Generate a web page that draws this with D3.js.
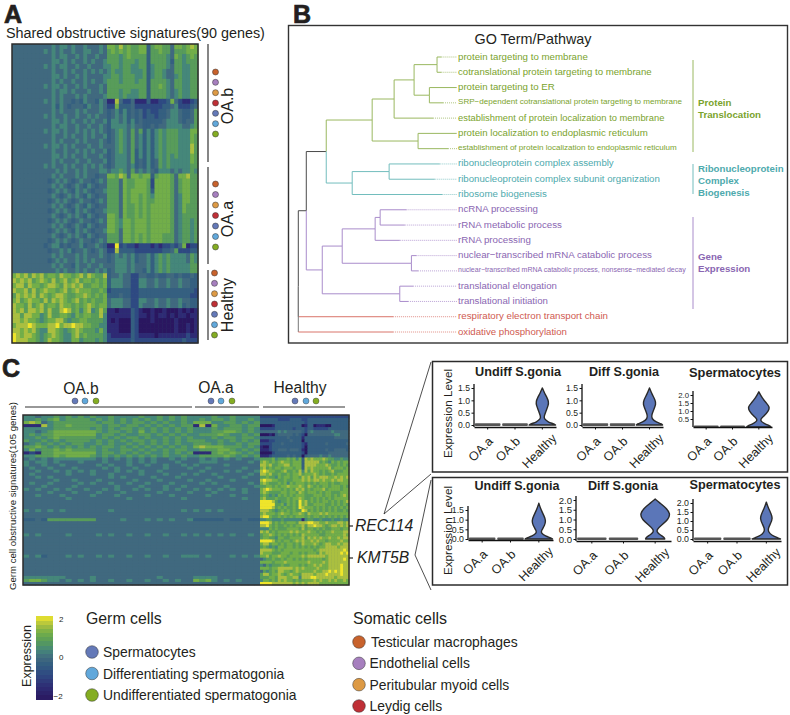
<!DOCTYPE html>
<html><head><meta charset="utf-8">
<script src="https://cdn.jsdelivr.net/npm/d3@7"></script>
<style>
html,body{margin:0;padding:0;background:#fff}
svg{display:block}
text{font-family:"Liberation Sans",Arial,sans-serif;fill:#231f20}
</style></head><body>
<svg id="c" width="790" height="715">
<defs><filter id="soft" x="-2%" y="-2%" width="104%" height="104%"><feGaussianBlur stdDeviation="0.75 0.6"/></filter></defs>
</svg>
<script>
// ---------- DATA ----------
const expressionLevels=[-2,-1.4,-0.8,-0.3,0,0.4,0.8,1.2,1.6,2];
const paletteStops=[-2,-1.4,-0.8,-0.3,0,0.4,0.8,1.2,1.6,2];
const paletteColors=["#2a1860","#2e2c74","#2f4a82","#345f80","#41697f","#45877a","#589c5a","#72ae48","#aabf40","#efe52c"];

const heatAColumnBlocks=[24,23];
const heatARows=[
"444444444454554544544454|77686766773677664776787",
"444444445454544544554454|67676766773667664666777",
"444444444454554454544544|66656766663666654765676",
"444444444455454544545445|66656665663666653665666",
"444444445454554454454445|56656655663566654665566",
"444444444454454544545454|56556655563566544665566",
"444444444455454454544445|56656665563566544565566",
"444444444454544544545445|66656665663666654665566",
"444444445455454454544454|66666666663667654665566",
"444444444454554544454454|66656655663666654565566",
"444444444454544454544445|66656555663666654565566",
"444444445454544343544354|11842241113112237421123",
"444444444453543444354454|22733342222222334522234",
"444444444454544454544454|34535343423223345543346",
"444444445454454454454544|34545343423323345543346",
"444444444455454544545445|35545353433333455543446",
"444444444454554454454454|35555454433434455554456",
"444444445455454454545454|34565464635356566655577",
"444444444454454544545445|34565464535356566655576",
"444444444454544454544454|34565464535356566655576",
"444444445455454544454454|44565464535356566655586",
"444444444454454454545445|34565463535356566655586",
"444444444455454544544454|34555463535356565655576",
"444444444454544454454445|34555463435346565555576",
"444444445454454544545454|34555453435346565555566",
"444444444445454454544455|45565464545435554545565",
"444444444454544454544344|77687477677367776477866",
"444444444345454345443454|66647667776277776467766",
"444444444454543454354344|66647667776277776467766",
"444444444345454354543445|66647677776377776467766",
"444444444454345454354344|66647677676577776457766",
"444444444345454345443454|66647677676677776457766",
"444444444454543454354344|66647667676777776457666",
"444444444345454354543445|66647667676777776457666",
"444444444454345454354344|77647667676777776456666",
"444444444345454345443454|77657767776777776456656",
"444444444454543454354344|77657767776777776456656",
"444444444345454354543445|77647767776777776456656",
"444444444454345454354344|66647767676777666456656",
"444444444345454345443454|66647767676777666456656",
"444444443455343445344543|11923221222121223247122",
"444444444344545344543454|22833332222222334622233",
"444444444454544454544454|34545453445356565555465",
"444444444345454454545444|34555453445356565555465",
"444444444454544354454454|44555454445356565555566",
"444444444445454454544545|34555454435356565555566",
"787868786776877678687668|34454422443343344343343",
"878786787686786786776767|35554422554454454454433",
"788687767887687878667767|35554422554454454454433",
"877868678776786787776676|23333322333333333333332",
"687878687678876677876767|33343322333333333333322",
"786787768687876786767667|45554422554454454454433",
"877686786776877676787677|45554422544454454453433",
"878688786866898675785686|11011132100100100010101",
"886887756866776576776685|11111132110101101011011",
"887877656778865667766665|10100032000100000100001",
"788898777889788988776655|11100032000000000100101",
"887878655887656787666575|11100032000000000100101",
"987887656787655786766665|21111132111101111111211",
"988877656877655775666565|22222232222222222223222"
];

const heatCOAColumnBlocks=[28,11];
const heatCOARows=[
"5545565656565565555655656565|55565565555",
"5565675666656565656565656565|56566565565",
"7874566666665665656656565565|77755665656",
"1118566766666566566565656566|18175566566",
"5555566666656565665656565656|55565666565",
"5545677777776566565756565656|55566776565",
"5656677777775665655665656565|56667655656",
"5565676666665656566565565656|55565665665",
"6556565666656565656656565656|66556565656",
"4565656566556565565656565655|66656556566",
"6676565656565665656565656565|78777666565",
"5756676766665655665656565665|56667765656",
"1216677777775665656565565656|11167676565",
"5566676777765656565656565565|56666765656",
"4545455555554545454545445454|45454545445",
"5455454445444544454545444544|45554444454",
"5445445444445454454454454454|54444544444",
"4544544454444545445444454445|44544444544",
"4454454545454445454544544444|45444545445",
"4544444544454454444544454454|54454444454",
"4454544444444454544445444544|44445444544",
"4444454454445444445444544445|44544454444",
"4544544445454454454454445444|45454444454",
"4445444454444445444544454454|44444544445",
"5454454544544545445454454544|54545454544",
"4444544454445444544444544445|44454444544",
"4454445444454445444454445444|44544454444",
"4444444544444444454444444454|44444444544",
"4444444444444444444444444444|44444444444",
"4444444444444444444444444444|44444444444",
"4444444444444444444444444444|44444444444",
"5454545444444454444444444454|54545444444",
"4444444444444444444444444444|44444444444",
"4444444444444444444444444444|44444444444",
"3343666666664444544454545445|33333433433",
"4444444444444444444444444444|44444444444",
"4444444444444444444444444444|44444444444",
"4444444444444444444444444444|44444444444",
"4444444444444444444444444444|44444444444",
"5454444544445454454454454454|54545454454",
"4444444444444444444444444444|44444444444",
"4444444444444444444444444444|44444444444",
"4444444444444444444444444444|44444444444",
"4444444444444444444444444444|44444444444",
"4444444444444444444444444444|44444444444",
"4444444444444444444444444444|44444444444",
"5453444545445454454454454455|54544454545",
"4444444444444444444444444444|44444444444",
"4444444444444444444444444444|44444444444",
"4444444444444444444444444444|44444444444",
"4444444444444444444444444444|44444444444",
"4444444444444444444444444444|44444444444",
"4444444444444444444444444444|44444444444",
"5555555444454444444444544444|55554444444",
"6776554545454454454454454544|76754545444",
"4444444444444444444444444444|44444444444"
];
const heatCHealthyColumnBlocks=[30];
const heatCHealthyRows=[
"222222222222222222222222222222",
"333333222233332233333333333333",
"333333333333333233333333333333",
"000013333333330133011100333333",
"222223333332333233222223333333",
"444444545444443245444444544444",
"000103444443432044444444455444",
"333333333433331333333333344444",
"111223333343330333333333333333",
"222233343333332133333343333334",
"100233333333332033333333333333",
"111233444344431033333343344443",
"000023333333332033333334444444",
"111233333434330344445445444444",
"666675666767573878777876655655",
"787676787767773888886765767677",
"887866778867773888877787667676",
"786767767776773878777778677767",
"898776678667685868776767866677",
"887866766767786777876766767777",
"667665767767768786878887787878",
"898877667667778787887877878877",
"787666767576777676767776766777",
"667767677877787687676776777676",
"789877767676878676777867777677",
"787666677677687677767677666777",
"676565767676777666777677676787",
"786667666767787667676767677777",
"999986566767697867676776767678",
"999996675767697866777766767676",
"999986767667698777676767676767",
"888765676767669867676767676676",
"787776787767787687778787777777",
"899766767676777676776767676767",
"556655565555551566556555655655",
"999867676777688899887787778878",
"889767667676778688988767887878",
"555767666777768677676766777677",
"878676777787877787767677877788",
"677876767676768777776677777787",
"677665776677778687878778778788",
"999986767767878778787767777877",
"788677676776768777876788778788",
"676565776776767676767788887888",
"888876767777777777678888888898",
"877766677767767677768788888989",
"778677877677778788888878888888",
"456676676776767677777678888898",
"777767778777777787777878888888",
"546566676677767677878778888988",
"777677888887878777787778888988",
"465676887767877777877889898988",
"688677876787768888788898888988",
"666776888778858889988888878888",
"577676878776767777878778787787",
"999988888887878788887777777777"
];

const clusterNames=["OA.b","OA.a","Healthy"];
const somaticCells=["Testicular macrophages","Endothelial cells","Peritubular myoid cells","Leydig cells"];
const germCells=["Spermatocytes","Differentiating spermatogonia","Undifferentiated spermatogonia"];
const somaticColors=["#c8622c","#a67fbe","#dd9a45","#bf2f36"];
const germColors=["#6479b8","#61a8db","#84ad22"];

const goTerms=["protein targeting to membrane","cotranslational protein targeting to membrane","protein targeting to ER","SRP\u2212dependent cotranslational protein targeting to membrane","establishment of protein localization to membrane","protein localization to endoplasmic reticulum","establishment of protein localization to endoplasmic reticulum","ribonucleoprotein complex assembly","ribonucleoprotein complex subunit organization","ribosome biogenesis","ncRNA processing","rRNA metabolic process","rRNA processing","nuclear\u2212transcribed mRNA catabolic process","nuclear\u2212transcribed mRNA catabolic process, nonsense\u2212mediated decay","translational elongation","translational initiation","respiratory electron transport chain","oxidative phosphorylation"];
const goGroupOfTerm=[0,0,0,0,0,0,0,1,1,1,2,2,2,2,2,2,2,3,3];
const goLeafReach=[430,430,475,435,405,475,450,425,410,433,325,320,305,355,360,345,330,285,285];
const goTree={h:0,c:[{h:24,c:[{h:84,c:[{h:222,c:[{h:288,c:[{h:348,c:[{h:417,c:[0,1]},{h:394,c:[2,3]}]},4]},{h:360,c:[5,6]}]},{h:162,c:[{h:273,c:[7,8]},9]}]},{h:72,c:[{h:132,c:[{h:231,c:[{h:246,c:[10,11]},12]},{h:340,c:[13,14]}]},{h:305,c:[15,16]}]}]},17,18]};
const goGroupNames=[["Protein","Translocation"],["Ribonucleoprotein","Complex","Biogenesis"],["Gene","Expression"],[]];
const goTextColors=["#7aa32c","#4eaaad","#8a66b2","#cf5a50"];
const goLineColors=["#9ab860","#72bdbd","#a98ccb","#d9746a"];

const violinCats=["OA.a","OA.b","Healthy"];
const violinTitles=["Undiff S.gonia","Diff S.gonia","Spermatocytes"];
const flatDensity=[[0,0.95],[0.03,0.95]];
const rec114Densities=[
 [[0,1.05],[.05,.9],[.12,.45],[.25,.14],[.35,.14],[.55,.28],[.8,.48],[.95,.5],[1.1,.38],[1.3,.17],[1.5,0]],
 [[0,1.05],[.05,.95],[.12,.55],[.25,.17],[.4,.17],[.6,.32],[.85,.53],[1.0,.47],[1.25,.2],[1.5,0]],
 [[0,1],[.05,.95],[.2,.5],[.35,.17],[.5,.14],[.7,.45],[1,.8],[1.25,.9],[1.5,.62],[1.8,.28],[2.2,0]]
];
const kmt5bDensities=[
 [[0,1.05],[.05,.95],[.15,.5],[.3,.17],[.45,.2],[.7,.45],[.95,.54],[1.2,.4],[1.5,.17],[1.85,0]],
 [[0,.66],[.08,.62],[.2,.37],[.35,.11],[.5,.13],[.7,.42],[1,.9],[1.3,1.05],[1.6,.74],[1.85,.32],[2.05,0]],
 [[0,1.05],[.05,.9],[.2,.4],[.4,.14],[.6,.14],[.85,.31],[1.15,.47],[1.4,.36],[1.7,.16],[2.05,0]]
];
const rec114Ticks=[[0,.5,1,1.5],[0,.5,1,1.5],[.5,1,1.5,2]];
const kmt5bTicks=[[0,.5,1,1.5],[0,.5,1,1.5,2],[0,.5,1,1.5,2]];
const colorbarTicks=[2,0,-2];

// ---------- DRAW ----------
const svg=d3.select("#c");
const ink="#231f20";
const color=d3.scaleLinear().domain(paletteStops).range(paletteColors).clamp(true);

function drawHeat(rows,blocks,x0,x1,y0,y1){
  const nCol=d3.sum(blocks);
  const xs=d3.scaleBand().domain(d3.range(nCol)).range([x0,x1]);
  const ys=d3.scaleBand().domain(d3.range(rows.length)).range([y0,y1]);
  svg.append("rect").attr("x",x0).attr("y",y0).attr("width",x1-x0).attr("height",y1-y0).attr("fill",color(0));
  const g=svg.append("g").attr("filter","url(#soft)");
  rows.forEach((row,r)=>{
    let off=0;
    row.split("|").forEach((seg,b)=>{
      g.selectAll(null).data(seg.split("").map((ch,i)=>({col:off+i,v:expressionLevels[+ch]}))).join("rect")
       .attr("x",d=>xs(d.col)).attr("y",ys(r)).attr("width",xs.bandwidth()+.4).attr("height",ys.bandwidth()+.4)
       .attr("fill",d=>color(d.v));
      off+=blocks[b];
    });
  });
}
function heatBorder(x0,x1,y0,y1){
  svg.append("rect").attr("x",x0).attr("y",y0).attr("width",x1-x0).attr("height",y1-y0)
     .attr("fill","none").attr("stroke","#2b2b2b").attr("stroke-width",1.5);
}
function fit(sel,w){
  const n=sel.node(),len=n.getComputedTextLength(),s=+sel.attr("font-size");
  sel.attr("font-size",(s*w/len).toFixed(2));
  return sel;
}
function label(t,x,y,size,opts={}){
  const e=svg.append("text").text(t).attr("x",x).attr("y",y).attr("font-size",size)
    .attr("text-anchor",opts.anchor||"start").attr("dominant-baseline","central");
  if(opts.weight)e.attr("font-weight",opts.weight);
  if(opts.italic)e.attr("font-style","italic");
  if(opts.fill)e.style("fill",opts.fill);
  if(opts.rot)e.attr("transform",`rotate(${opts.rot} ${x} ${y})`);
  if(opts.w)fit(e,opts.w);
  return e;
}
function line(x1,y1,x2,y2,col=ink,w=1){
  svg.append("line").attr("x1",x1).attr("y1",y1).attr("x2",x2).attr("y2",y2).attr("stroke",col).attr("stroke-width",w);
}
// panel letters
[["A",4,14],["B",293,14],["C",2,368]].forEach(([t,x,y])=>label(t,x,y,25,{weight:"bold"}).style("stroke",ink).style("stroke-width",.7));

// ---- Panel A ----
label("Shared obstructive signatures(90 genes)",6,33,14.6,{w:259});
drawHeat(heatARows,heatAColumnBlocks,12,198,44,343);
heatBorder(12,198,44,343);
[[44,162],[167,264],[270,340]].forEach(([a,b])=>line(208,a,208,b,"#222",1.1));
const sideOrder=somaticColors.concat(germColors);
[[72,134,215.5],[184,247,215.5],[273,335,214.5]].forEach(([a,b,x])=>{
  const sc=d3.scalePoint().domain(d3.range(7)).range([a,b]);
  svg.selectAll(null).data(sideOrder).join("circle").attr("cx",x).attr("cy",(d,i)=>sc(i)).attr("r",3)
    .attr("fill",d=>d).attr("stroke","#333").attr("stroke-width",.5);
});
label("OA.b",227,106,16,{anchor:"middle",rot:-90});
label("OA.a",227,219,16,{anchor:"middle",rot:-90});
label("Healthy",227,305,16,{anchor:"middle",rot:-90});

// ---- Panel B ----
svg.append("rect").attr("x",288.5).attr("y",25.5).attr("width",499).attr("height",317.5).attr("fill","none").attr("stroke","#333").attr("stroke-width",1.4);
label("GO Term/Pathway",533,39,14.6,{anchor:"middle",w:117});
const treeX=d3.scaleLinear().domain([0,480]).range([298.3,458]);
const treeY=d3.scalePoint().domain(d3.range(goTerms.length)).range([57,332]);
function build(n){
  if(typeof n==="number")return{leaf:n,h:goLeafReach[n],y:treeY(n),groups:[goGroupOfTerm[n]]};
  const kids=n.c.map(build);
  const groups=Array.from(new Set(kids.flatMap(k=>k.groups)));
  return{h:n.h,kids,groups,y:d3.mean(kids,k=>k.y)};
}
const treeRoot=build(goTree);
function branchColor(n){return n.groups.length===1?goLineColors[n.groups[0]]:"#4a4a4a";}
(function walk(n,isRoot){
  if(!n.kids)return;
  n.kids.forEach(k=>{
    const c=branchColor(k);
    line(treeX(n.h),n.y,treeX(n.h),k.y,isRoot&&k.kids===undefined?"#777":c,1);
    line(treeX(n.h),k.y,treeX(k.h),k.y,c,1);
    if(k.leaf!==undefined){
      svg.append("line").attr("x1",treeX(k.h)).attr("x2",457).attr("y1",k.y).attr("y2",k.y)
        .attr("stroke",c).attr("stroke-width",.8).attr("stroke-dasharray","1 1");
    }
    walk(k,false);
  });
})(treeRoot,true);
const goLabelWidths=[130,194,97,224,207,190,219,156,202,89,80,104,73,194,228,99,90,150,109];
goTerms.forEach((t,i)=>{
  label(t,458,treeY(i)-1,10,{fill:goTextColors[goGroupOfTerm[i]],w:goLabelWidths[i]});
});
[[60,152],[164,194],[217,309]].forEach(([a,b],i)=>line(693,a,693,b,goLineColors[i],1));
const groupLabelY=[[102,114],[168,180,192],[256,268]];
goGroupNames.forEach((names,i)=>names.forEach((n,j)=>label(n,698,groupLabelY[i][j],9.7,{weight:"bold",fill:goTextColors[i]})));

// ---- Panel C ----
drawHeat(heatCOARows,heatCOAColumnBlocks,23,260,415,585);
drawHeat(heatCHealthyRows,heatCHealthyColumnBlocks,260,349,415,585);
heatBorder(23,349,415,585);
label("Germ cell obstructive signatures(105 genes)",12,496,11.4,{anchor:"middle",rot:-90,w:188});
[[25,192,81,388,[75,85,96]],[195,259,216,387,[211,221,232]],[263,345,300,387,[295,306,316]]].forEach(([a,b,cx,ty,dots],i)=>{
  line(a,407,b,407,"#333",1.2);
  label(clusterNames[i],cx,ty,15.6,{anchor:"middle"});
  svg.selectAll(null).data(germColors).join("circle").attr("cx",(d,j)=>dots[j]).attr("cy",401).attr("r",3)
    .attr("fill",d=>d).attr("stroke","#333").attr("stroke-width",.4);
});
[["REC114",526,355],["KMT5B",558,357]].forEach(([t,y,x])=>{
  line(349,y,353,y,"#222",1.2);
  label(t,x,y-.5,15.7,{italic:true});
});
// leader lines
[[384,514,431,362],[384,514,431,474],[415,555,431,480],[415,555,431,590]].forEach(d=>line(d[0],d[1],d[2],d[3],"#222",.8));

// ---- Violin panels ----
function violinBox(y0,y1){
  svg.append("rect").attr("x",432.5).attr("y",y0).attr("width",355).attr("height",y1-y0).attr("fill","#fff").attr("stroke","#2b2b2b").attr("stroke-width",1.5);
}
function violin(title,titleW,titleX,titleY,left,right,base,y0px,y1px,y1val,density,ticks,tickSize){
  label(title,titleX,titleY,13,{weight:"bold",anchor:"middle",w:titleW});
  const x=d3.scaleBand().domain(violinCats).range([left,right]);
  const y=d3.scaleLinear().domain([0,y1val]).range([y0px,y1px]);
  const half=x.bandwidth()/2*.92;
  const area=d3.area().curve(d3.curveBasis).y(d=>y(d[0]));
  violinCats.forEach((c,i)=>{
    const cx=x(c)+x.bandwidth()/2;
    const dens=i===2?density:flatDensity;
    area.x0(d=>cx-d[1]*half).x1(d=>cx+d[1]*half);
    svg.append("path").attr("d",area(dens)).attr("fill","#5b76b8")
       .attr("stroke",i===2?"#2a2a2a":"#555").attr("stroke-width",i===2?1.4:1.8).attr("stroke-linejoin","round");
  });
  const ax=svg.append("g").attr("transform",`translate(${left},0)`).call(d3.axisLeft(y).tickValues(ticks).tickFormat(d3.format(".1f")).tickSize(2.5).tickPadding(1.5));
  ax.select(".domain").attr("d",`M0,${base}V${y1px-4}`).attr("stroke","#111").attr("stroke-width",1.3);
  ax.selectAll("line").attr("stroke","#111");
  ax.selectAll("text").attr("font-size",tickSize).attr("font-family",'"Liberation Sans"').style("fill",ink);
  const bx=svg.append("g").attr("transform",`translate(0,${base})`).call(d3.axisBottom(x).tickSize(2.5).tickSizeOuter(0));
  bx.select(".domain").attr("stroke","#111").attr("stroke-width",1.3);
  bx.selectAll("line").attr("stroke","#111");
  bx.selectAll("text").attr("font-size",12.5).attr("font-family",'"Liberation Sans"').style("fill",ink)
    .attr("text-anchor","end").attr("dy",0).attr("y",0)
    .attr("transform",(d,i)=>i===2?"translate(15,12) rotate(-45)":"translate(6,15) rotate(-45)");
}
violinBox(361.5,472);
violinBox(477.5,585);
label("Expression Level",447,413.5,13,{anchor:"middle",rot:-90,w:89});
label("Expression Level",447,530.5,13,{anchor:"middle",rot:-90,w:89});
violin(violinTitles[0],86,518,372,474,556,427,425,388,1.5,rec114Densities[0],rec114Ticks[0],8.6);
violin(violinTitles[1],70,624,372,582,663,427,425,388,1.5,rec114Densities[1],rec114Ticks[1],8.6);
violin(violinTitles[2],92,735,372,693,772,427,427,395,2,rec114Densities[2],rec114Ticks[2],7.8);
violin(violinTitles[0],85,517,486,468,553,540,539,510,1.5,kmt5bDensities[0],kmt5bTicks[0],8.8);
violin(violinTitles[1],70,623,486,576,671,541,539,500,2,kmt5bDensities[1],kmt5bTicks[1],9.6);
violin(violinTitles[2],91,735,485,693,781,541,539,503,2,kmt5bDensities[2],kmt5bTicks[2],8.8);

// ---- Colorbar ----
const cb=d3.scaleLinear().domain([-2,2]).range([699,616]);
const cbCells=d3.range(-2,2,0.2);
svg.append("g").attr("shape-rendering","crispEdges").selectAll("rect").data(cbCells).join("rect")
  .attr("x",36).attr("width",17).attr("y",d=>cb(d+0.2)).attr("height",d=>cb(d)-cb(d+0.2)+.5).attr("fill",d=>color(d+.1));
colorbarTicks.forEach(t=>{
  label(t===-2?"\u22122":String(t),t===-2?53.5:59,t===-2?696:(t===2?619:657),8,{});
});
label("Expression",27,656,12.5,{anchor:"middle",rot:-90});

// ---- Legends ----
label("Germ cells",86,618,16,{w:75.7});
label("Somatic cells",353,618,16,{w:94});
const germY=d3.scalePoint().domain(germCells).range([652,695]);
svg.selectAll(null).data(germCells).join("circle").attr("cx",92).attr("cy",d=>germY(d)).attr("r",6.3)
  .attr("fill",(d,i)=>germColors[i]).attr("stroke","#333").attr("stroke-width",.5);
germCells.forEach(d=>label(d,103,germY(d),13.9));
const somY=d3.scalePoint().domain(somaticCells).range([642,706]);
svg.selectAll(null).data(somaticCells).join("circle").attr("cx",359).attr("cy",d=>somY(d)).attr("r",6.3)
  .attr("fill",(d,i)=>somaticColors[i]).attr("stroke","#333").attr("stroke-width",.5);
somaticCells.forEach((d,i)=>label(d,i===0?371:369.5,somY(d),13.9));
</script>
</body></html>
